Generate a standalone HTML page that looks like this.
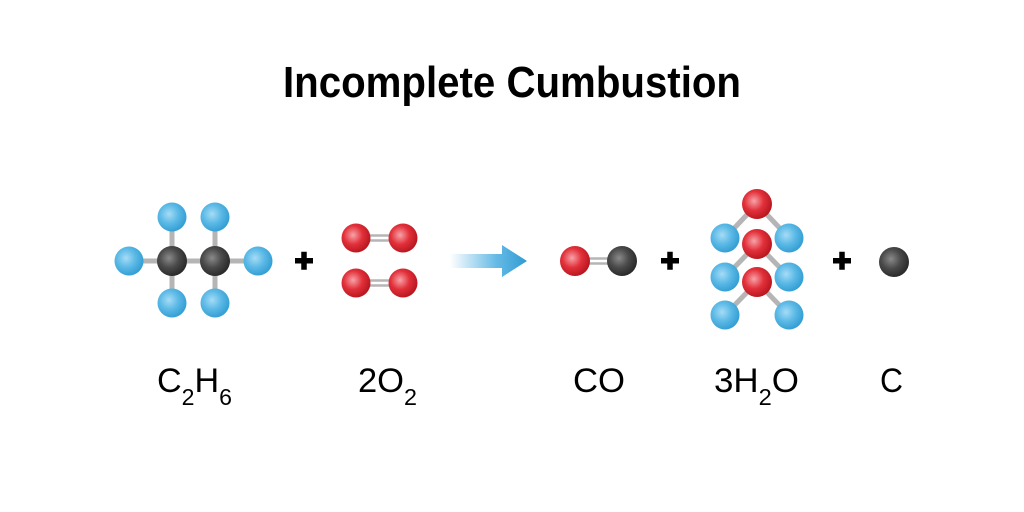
<!DOCTYPE html>
<html><head><meta charset="utf-8"><style>html,body{margin:0;padding:0;background:#fff}svg{display:block}</style></head>
<body>
<svg width="1024" height="512" viewBox="0 0 1024 512" xmlns="http://www.w3.org/2000/svg">
<defs>
<radialGradient id="gH" cx="0.4" cy="0.4" r="0.65"><stop offset="0" stop-color="#a6dcf6"/><stop offset="0.5" stop-color="#5bb9e6"/><stop offset="1" stop-color="#2f9bd1"/></radialGradient>
<radialGradient id="gO" cx="0.4" cy="0.4" r="0.65"><stop offset="0" stop-color="#f7a3a8"/><stop offset="0.5" stop-color="#e2303a"/><stop offset="1" stop-color="#b3141d"/></radialGradient>
<radialGradient id="gC" cx="0.4" cy="0.4" r="0.65"><stop offset="0" stop-color="#8a8a8a"/><stop offset="0.5" stop-color="#4a4a4a"/><stop offset="1" stop-color="#262626"/></radialGradient>
<linearGradient id="gA" x1="0" x2="1" y1="0" y2="0"><stop offset="0" stop-color="#3fa9df" stop-opacity="0"/><stop offset="0.6" stop-color="#3fa9df" stop-opacity="0.8"/><stop offset="1" stop-color="#2f9bd1"/></linearGradient>
</defs>
<text x="512" y="97" text-anchor="middle" font-family="Liberation Sans, sans-serif" font-weight="bold" font-size="44" textLength="458" lengthAdjust="spacingAndGlyphs" fill="#000">Incomplete Cumbustion</text>

<g stroke="#b5b5b5" stroke-width="5">
<line x1="129" y1="261" x2="258" y2="261"/>
<line x1="172" y1="217" x2="172" y2="302"/>
<line x1="215" y1="217" x2="215" y2="302"/>
<line x1="575" y1="258.5" x2="622" y2="258.5" stroke-width="2.5"/>
<line x1="575" y1="263.5" x2="622" y2="263.5" stroke-width="2.5"/>
<line x1="356" y1="235.5" x2="403" y2="235.5" stroke-width="2.5"/>
<line x1="356" y1="240.5" x2="403" y2="240.5" stroke-width="2.5"/>
<line x1="356" y1="280.5" x2="403" y2="280.5" stroke-width="2.5"/>
<line x1="356" y1="285.5" x2="403" y2="285.5" stroke-width="2.5"/>
<line x1="757" y1="204" x2="725" y2="238"/><line x1="757" y1="204" x2="789" y2="238"/>
<line x1="757" y1="244" x2="725" y2="277"/><line x1="757" y1="244" x2="789" y2="277"/>
<line x1="757" y1="282" x2="725" y2="315"/><line x1="757" y1="282" x2="789" y2="315"/>
</g>
<g fill="url(#gH)">
<circle cx="129" cy="261" r="14.5"/><circle cx="258" cy="261" r="14.5"/>
<circle cx="172" cy="217" r="14.5"/><circle cx="215" cy="217" r="14.5"/>
<circle cx="172" cy="303" r="14.5"/><circle cx="215" cy="303" r="14.5"/>
<circle cx="725" cy="238" r="14.5"/><circle cx="789" cy="238" r="14.5"/>
<circle cx="725" cy="277" r="14.5"/><circle cx="789" cy="277" r="14.5"/>
<circle cx="725" cy="315" r="14.5"/><circle cx="789" cy="315" r="14.5"/>
</g>
<g fill="url(#gC)">
<circle cx="172" cy="261" r="15"/><circle cx="215" cy="261" r="15"/>
<circle cx="622" cy="261" r="15"/><circle cx="894" cy="262" r="15"/>
</g>
<g fill="url(#gO)">
<circle cx="356" cy="238" r="14.5"/><circle cx="403" cy="238" r="14.5"/>
<circle cx="356" cy="283" r="14.5"/><circle cx="403" cy="283" r="14.5"/>
<circle cx="575" cy="261" r="15"/>
<circle cx="757" cy="204" r="15"/><circle cx="757" cy="244" r="15"/><circle cx="757" cy="282" r="15"/>
</g>
<path d="M450 254 H502 V245 L527 261 L502 277 V268 H450 Z" fill="url(#gA)"/>
<g fill="#000">
<rect x="295" y="258" width="18" height="5.5"/><rect x="301.25" y="251.75" width="5.5" height="18"/>
<rect x="661" y="258" width="18" height="5.5"/><rect x="667.25" y="251.75" width="5.5" height="18"/>
<rect x="833" y="258" width="18" height="5.5"/><rect x="839.25" y="251.75" width="5.5" height="18"/>
</g>
<g font-family="Liberation Sans, sans-serif" fill="#000" font-size="34">
<text x="157" y="392" textLength="75" lengthAdjust="spacingAndGlyphs">C<tspan font-size="23" dy="13">2</tspan><tspan dy="-13">H</tspan><tspan font-size="23" dy="13">6</tspan></text>
<text x="358" y="392" textLength="59" lengthAdjust="spacingAndGlyphs">2O<tspan font-size="23" dy="13">2</tspan></text>
<text x="573" y="392" textLength="52" lengthAdjust="spacingAndGlyphs">CO</text>
<text x="714" y="392" textLength="85" lengthAdjust="spacingAndGlyphs">3H<tspan font-size="23" dy="13">2</tspan><tspan dy="-13">O</tspan></text>
<text x="880" y="392" textLength="23" lengthAdjust="spacingAndGlyphs">C</text>
</g>
</svg>
</body></html>
